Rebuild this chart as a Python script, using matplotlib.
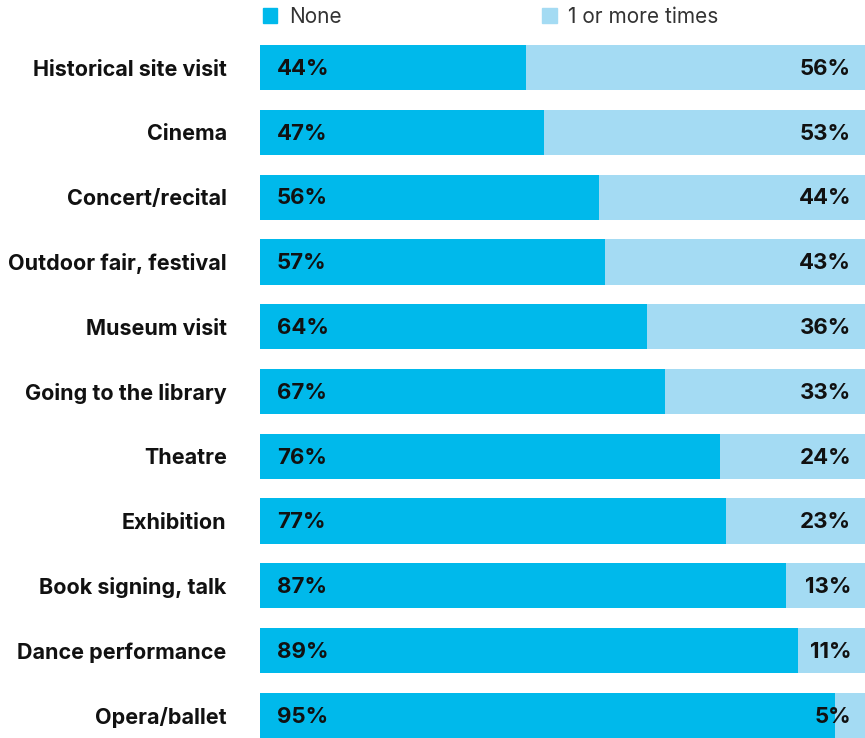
import matplotlib
matplotlib.use("Agg")
import matplotlib.pyplot as plt
from matplotlib.patches import Patch

plt.rcParams['font.family'] = ['Inter', 'DejaVu Sans']

# ------------------ Data ------------------ #
categories = ["Historical site visit", "Cinema", "Concert/recital", "Outdoor fair, festival",
              "Museum visit", "Going to the library", "Theatre", "Exhibition",
              "Book signing, talk", "Dance performance", "Opera/ballet"]
none_pct = [44, 47, 56, 57, 64, 67, 76, 77, 87, 89, 95]
more_pct = [56, 53, 44, 43, 36, 33, 24, 23, 13, 11, 5]
series_names = ["None", "1 or more times"]

dark = "#00B9EB"
light = "#A4DBF3"
txt = "#111111"

fig = plt.figure(figsize=(8.65, 7.38), dpi=100)
ax = fig.add_axes([260 / 865, 0.0, 605 / 865, 1 - 45 / 738])

y = list(range(len(categories)))
ax.barh(y, none_pct, height=0.7, color=dark)
ax.barh(y, more_pct, left=none_pct, height=0.7, color=light)

for i in y:
    ax.text(2.8, i + 0.02, f"{none_pct[i]}%", ha="left", va="center",
            fontsize=16, fontweight="bold", color=txt)
    ax.text(97.7, i + 0.02, f"{more_pct[i]}%", ha="right", va="center",
            fontsize=16, fontweight="bold", color=txt)

ax.set_xlim(0, 100)
ax.set_ylim(len(categories) - 1 + 0.35, -0.35)
ax.set_yticks(y)
ax.set_yticklabels(categories, fontsize=15.5, fontweight="bold", color=txt)
ax.tick_params(axis="y", length=0, pad=24)
ax.set_xticks([])
for s in ax.spines.values():
    s.set_visible(False)

handles = [Patch(color=dark), Patch(color=light)]
fig.legend(handles, series_names, ncol=2, loc="upper left",
           bbox_to_anchor=(244 / 865, 1.016), frameon=False, fontsize=15,
           handlelength=0.7, handleheight=0.7, handletextpad=0.55,
           columnspacing=9.65, labelcolor="#333333")

fig.savefig("out.png", dpi=100)
